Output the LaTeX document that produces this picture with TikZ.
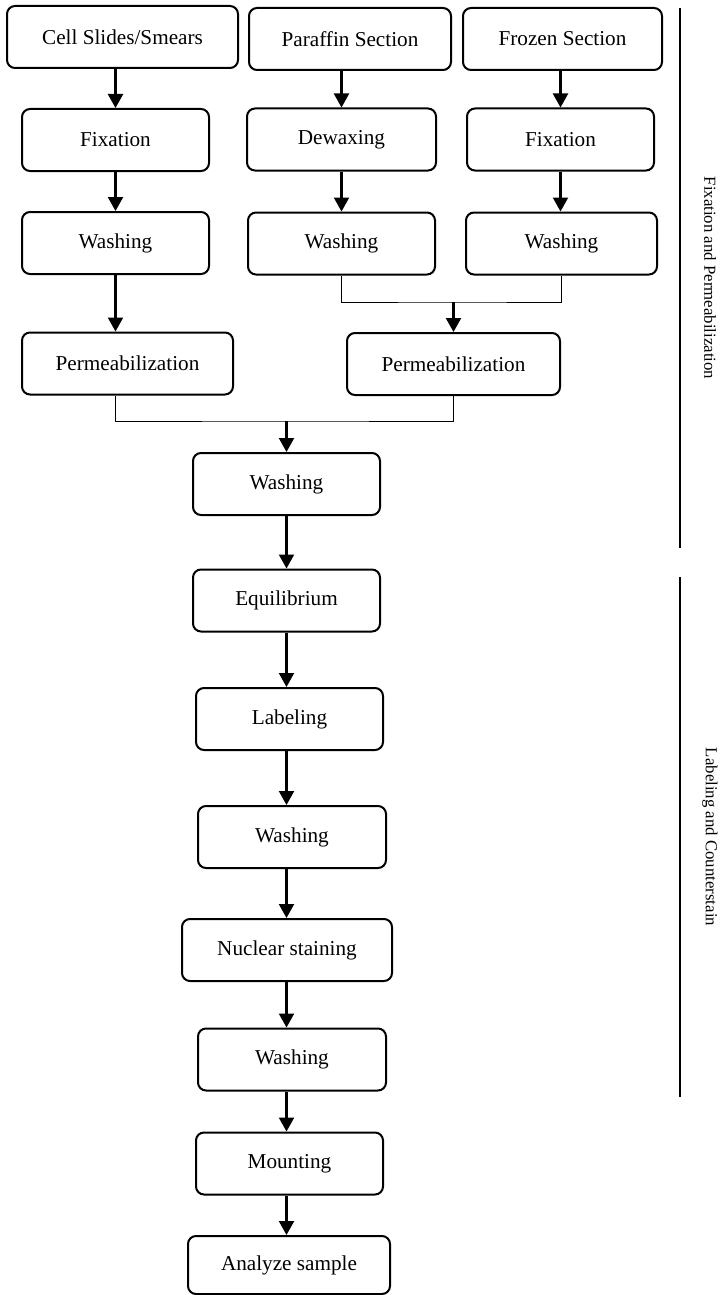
\documentclass[tikz,border=0pt]{standalone}
\usepackage{fontspec}
\setmainfont{Liberation Serif}
\usetikzlibrary{arrows.meta}

\begin{document}
\begin{tikzpicture}[x=0.5pt,y=-0.5pt,
  box/.style={draw,line width=1pt,rounded corners=4pt,align=center,minimum height=31pt,inner sep=0pt,font=\fontsize{10.6}{12.7}\selectfont},
  arr/.style={line width=1.1pt,-{Triangle[width=7.5pt,length=7pt]}},
  merge/.style={line width=0.5pt},
  side/.style={rotate=-90,font=\fontsize{8.4}{10}\selectfont}]
\useasboundingbox (0,0) rectangle (725,1295);
\node[box,minimum width=115.5pt] (cell) at (122.5,37) {Cell Slides/Smears};
\node[box,minimum width=101pt] (paraf) at (350,39) {Paraffin Section};
\node[box,minimum width=99.5pt] (froz) at (562.5,39) {Frozen Section};
\node[box,minimum width=93.5pt] (fixa) at (115.5,140) {Fixation};
\node[box,minimum width=94.5pt] (dewax) at (341.5,139.5) {Dewaxing};
\node[box,minimum width=93.5pt] (fixb) at (560.5,139.5) {Fixation};
\node[box,minimum width=93.5pt] (washa) at (115.5,243) {Washing};
\node[box,minimum width=93.5pt] (washb) at (341.5,243.5) {Washing};
\node[box,minimum width=95.5pt] (washc) at (561.5,243.5) {Washing};
\node[box,minimum width=105.5pt] (perma) at (127.5,363.5) {Permeabilization};
\node[box,minimum width=106.5pt] (permb) at (453.5,364) {Permeabilization};
\node[box,minimum width=93.5pt] (washd) at (286.5,484) {Washing};
\node[box,minimum width=93.5pt] (equil) at (286.5,600.5) {Equilibrium};
\node[box,minimum width=93.5pt] (label) at (289.5,719) {Labeling};
\node[box,minimum width=94pt] (washe) at (292,837) {Washing};
\node[box,minimum width=105pt] (nucl) at (287,950) {Nuclear staining};
\node[box,minimum width=94pt] (washf) at (292,1059.5) {Washing};
\node[box,minimum width=93.5pt] (mount) at (289.5,1163.5) {Mounting};
\node[box,minimum width=101pt,minimum height=29pt] (analy) at (289,1265) {Analyze sample};
\node[side] (grpa) at (710,278) {Fixation and Permeabilization};
\node[side] (grpb) at (710,837) {Labeling and Counterstain};
\draw[line width=0.6pt] (680,8) -- (680,548);
\draw[line width=0.6pt] (680,577) -- (680,1097);
\path (permb.north) ++(0,-30) coordinate (jb);
\path (washd.north) ++(0,-31) coordinate (jd);
\draw[arr] (cell.south -| fixa) -- (fixa.north);
\draw[arr] (fixa.south) -- (washa.north);
\draw[arr] (washa.south) -- (washa.south |- perma.north);
\draw[arr] (paraf.south -| dewax) -- (dewax.north);
\draw[arr] (froz.south -| fixb) -- (fixb.north);
\draw[arr] (dewax.south) -- (washb.north);
\draw[arr] (fixb.south) -- (fixb.south |- washc.north);
\draw[merge] (washb.south) |- (jb) -| (washc.south);
\draw[arr] (jb) -- (permb.north);
\draw[merge] (washa.south |- perma.south) |- (jd) -| (permb.south);
\draw[arr] (jd) -- (washd.north);
\foreach \a/\b in {washd/equil,equil/label,label/washe,washe/nucl,nucl/washf,washf/mount,mount/analy}
  \draw[arr] (washd |- \a.south) -- (washd |- \b.north);
\end{tikzpicture}
\end{document}
